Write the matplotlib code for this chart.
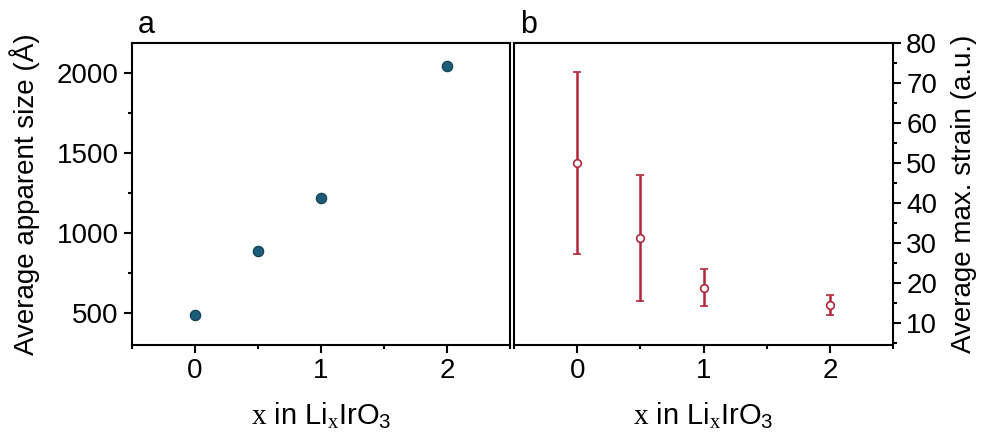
import matplotlib
matplotlib.use("Agg")
import matplotlib.pyplot as plt
from matplotlib.ticker import MultipleLocator

plt.rcParams["font.family"] = "Liberation Sans"
plt.rcParams["mathtext.fontset"] = "custom"
plt.rcParams["mathtext.rm"] = "Liberation Sans"
plt.rcParams["mathtext.it"] = "Liberation Serif"

# panel a: apparent size
x_size = [0, 0.5, 1, 2]
size_vals = [490, 890, 1220, 2045]

# panel b: max strain with error bars
x_strain = [0, 0.5, 1, 2]
strain_vals = [50.0, 31.3, 18.9, 14.5]
strain_err = [22.7, 15.7, 4.6, 2.5]

xlabel = r"$x$ in Li$_{x}$IrO$_3$"

fig = plt.figure(figsize=(9.82, 4.36), dpi=100)
ax1 = fig.add_axes([132 / 982, 1 - 345 / 436, 378 / 982, 302 / 436])
ax2 = fig.add_axes([514 / 982, 1 - 345 / 436, 379 / 982, 302 / 436])

blue = "#1b5d78"
red = "#b0273a"

ax1.plot(x_size, size_vals, "o", ms=7.5, color=blue, mec="#0f3c4f", mew=0.8)
ax1.set_xlim(-0.5, 2.5)
ax1.set_ylim(300, 2187)
ax1.yaxis.set_major_locator(MultipleLocator(500))
ax1.yaxis.set_minor_locator(MultipleLocator(250))
ax1.set_ylabel("Average apparent size (Å)", fontsize=20, labelpad=12)
ax1.text(0.015, 1.033, "a", transform=ax1.transAxes, fontsize=22,
         va="baseline")

ax2.errorbar(x_strain, strain_vals, yerr=strain_err, fmt="o", ms=5.5,
             color=red, mfc="white", mec=red, mew=1.2, elinewidth=1.8,
             capsize=3, capthick=1.8)
ax2.set_xlim(-0.5, 2.5)
ax2.set_ylim(4.6, 80)
ax2.yaxis.set_major_locator(MultipleLocator(10))
ax2.yaxis.set_minor_locator(MultipleLocator(5))
ax2.yaxis.tick_right()
ax2.yaxis.set_label_position("right")
ax2.set_ylabel("Average max. strain (a.u.)", fontsize=20, labelpad=10)
ax2.text(0.015, 1.033, "b", transform=ax2.transAxes, fontsize=22,
         va="baseline")

for ax in (ax1, ax2):
    ax.xaxis.set_major_locator(MultipleLocator(1))
    ax.xaxis.set_minor_locator(MultipleLocator(0.5))
    ax.set_xlabel(xlabel, fontsize=21, labelpad=12)
    ax.tick_params(which="both", direction="out", width=1.5, labelsize=20)
    ax.tick_params(which="major", length=6)
    ax.tick_params(which="minor", length=3)
    for s in ax.spines.values():
        s.set_linewidth(1.5)

fig.savefig("out.png", dpi=100)
